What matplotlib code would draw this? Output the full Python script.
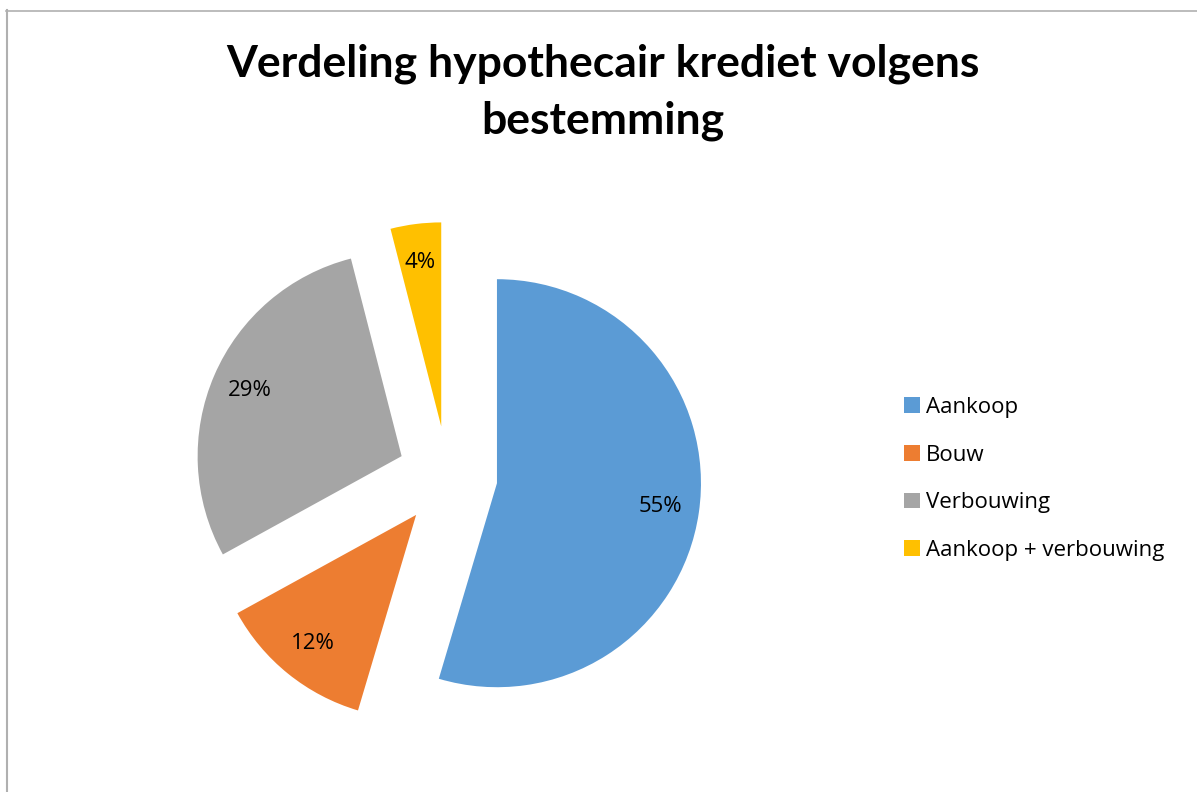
import matplotlib.pyplot as plt
from matplotlib.lines import Line2D

# data
categories = ['Aankoop', 'Bouw', 'Verbouwing', 'Aankoop + verbouwing']
shares = [54.6, 12.4, 29.0, 4.0]
colors = ['#5b9bd5', '#ed7d31', '#a5a5a5', '#ffc000']
title = 'Verdeling hypothecair krediet volgens\nbestemming'

W, H = 1197, 792
fig = plt.figure(figsize=(W / 100, H / 100), dpi=100)

# pie axes: 1 data unit = 204 px, centre at pixel (447.5, 476)
r_px = 204.0
cx, cy = 447.5, 476.0
xr, yr = 2.0, 1.5
ax = fig.add_axes([(cx - xr * r_px) / W, (H - cy - yr * r_px) / H,
                   2 * xr * r_px / W, 2 * yr * r_px / H])

wedges, texts, autotexts = ax.pie(
	shares, colors=colors, startangle=90, counterclock=False,
	explode=[0.245] * len(shares), radius=1.0,
	autopct=lambda p: '%d%%' % round(p), pctdistance=0.81,
	wedgeprops=dict(linewidth=0), textprops=dict(fontsize=16, family='Open Sans'))
ax.set_xlim(-xr, xr)
ax.set_ylim(-yr, yr)
ax.set_aspect('equal')
ax.axis('off')

fig.text(603 / W, 1 - 92 / H, title, ha='center', va='center',
	fontsize=32, fontweight='bold', family='Lato', linespacing=1.5)

leg = fig.legend(wedges, categories, loc='upper left',
	bbox_to_anchor=(884 / W, 1 - 377 / H), frameon=False,
	prop=dict(family='Open Sans', size=16), handlelength=0.7,
	handleheight=0.7, handletextpad=0.3, labelspacing=1.2)

# chart area border (only left and top visible)
fig.add_artist(Line2D([6.5 / W, 6.5 / W], [0, 1 - 10 / H], color='#b0b0b0', lw=1.5, transform=fig.transFigure))
fig.add_artist(Line2D([6 / W, 1], [1 - 10.5 / H, 1 - 10.5 / H], color='#b0b0b0', lw=1.2, transform=fig.transFigure))

fig.savefig('out.png', dpi=100)
